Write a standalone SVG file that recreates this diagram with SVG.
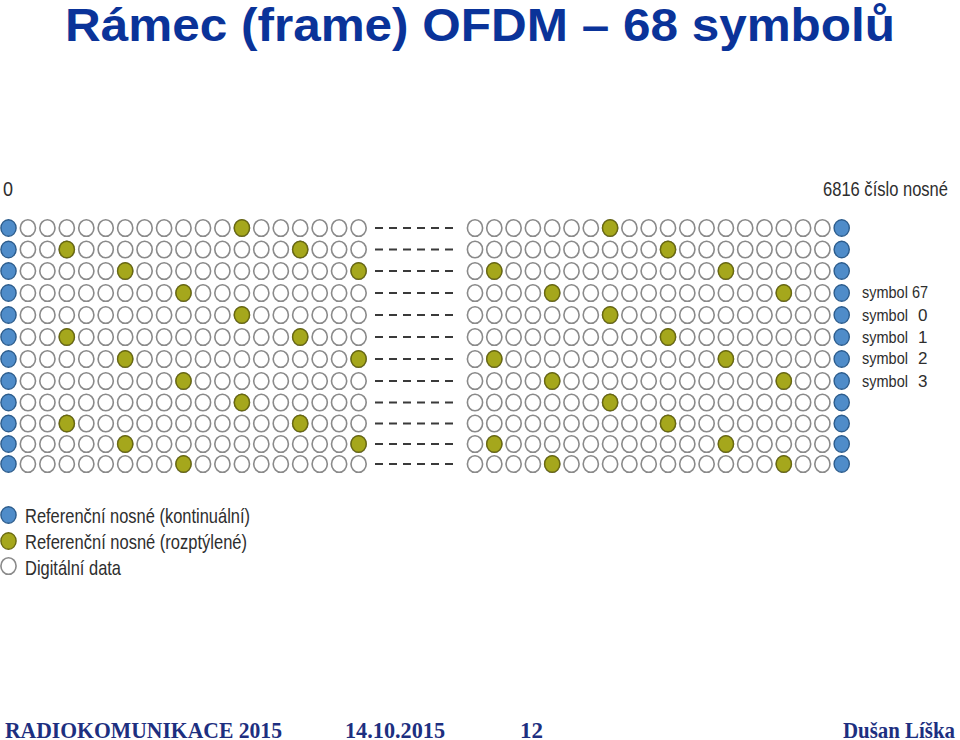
<svg xmlns="http://www.w3.org/2000/svg" xmlns:xlink="http://www.w3.org/1999/xlink" width="960" height="740" viewBox="0 0 960 740">
<style>
.w{fill:#ffffff;stroke:#8a8a8a;stroke-width:1.6}
.b{fill:#4f8cc9;stroke:#2c5c8c;stroke-width:1.4}
.y{fill:#a5a71c;stroke:#69690f;stroke-width:1.4}
.d{stroke:#3a3a3a;stroke-width:2.2;stroke-dasharray:8 6;fill:none}
.t{font-family:"Liberation Sans",Arial,sans-serif;fill:#2e2e2e}
.title{font-family:"Liberation Sans",Arial,sans-serif;font-weight:bold;font-size:46px;fill:#0a3399}
.foot{font-family:"Liberation Serif","Times New Roman",serif;font-weight:bold;font-size:23px;fill:#1d2f80}
</style>
<defs>
<ellipse id="c" cx="0" cy="0" rx="7.6" ry="8.3"/>
<g id="L">
<use href="#c" class="b" x="8.5"/>
<use href="#c" class="w" x="27.9"/><use href="#c" class="w" x="47.4"/><use href="#c" class="w" x="66.8"/><use href="#c" class="w" x="86.3"/><use href="#c" class="w" x="105.7"/><use href="#c" class="w" x="125.2"/><use href="#c" class="w" x="144.6"/><use href="#c" class="w" x="164.1"/><use href="#c" class="w" x="183.5"/><use href="#c" class="w" x="203"/><use href="#c" class="w" x="222.4"/><use href="#c" class="w" x="241.9"/><use href="#c" class="w" x="261.3"/><use href="#c" class="w" x="280.8"/><use href="#c" class="w" x="300.2"/><use href="#c" class="w" x="319.7"/><use href="#c" class="w" x="339.1"/><use href="#c" class="w" x="358.6"/>
<line class="d" x1="375" y1="0" x2="455" y2="0"/>
<use href="#c" class="w" x="475"/><use href="#c" class="w" x="494.3"/><use href="#c" class="w" x="513.6"/><use href="#c" class="w" x="532.9"/><use href="#c" class="w" x="552.2"/><use href="#c" class="w" x="571.5"/><use href="#c" class="w" x="590.8"/><use href="#c" class="w" x="610.1"/><use href="#c" class="w" x="629.4"/><use href="#c" class="w" x="648.7"/><use href="#c" class="w" x="668"/><use href="#c" class="w" x="687.3"/><use href="#c" class="w" x="706.6"/><use href="#c" class="w" x="725.9"/><use href="#c" class="w" x="745.2"/><use href="#c" class="w" x="764.5"/><use href="#c" class="w" x="783.8"/><use href="#c" class="w" x="803.1"/><use href="#c" class="w" x="822.4"/>
<use href="#c" class="b" x="841.7"/>
</g>
<g id="p0"><use href="#L"/><use href="#c" class="y" x="241.9"/><use href="#c" class="y" x="610.1"/></g>
<g id="p1"><use href="#L"/><use href="#c" class="y" x="66.8"/><use href="#c" class="y" x="300.2"/><use href="#c" class="y" x="668"/></g>
<g id="p2"><use href="#L"/><use href="#c" class="y" x="125.2"/><use href="#c" class="y" x="358.6"/><use href="#c" class="y" x="494.3"/><use href="#c" class="y" x="725.9"/></g>
<g id="p3"><use href="#L"/><use href="#c" class="y" x="183.5"/><use href="#c" class="y" x="552.2"/><use href="#c" class="y" x="783.8"/></g>
</defs>
<rect width="960" height="740" fill="#ffffff"/>
<g id="title"><text class="title" x="65" y="41" textLength="830" lengthAdjust="spacingAndGlyphs">Rámec (frame) OFDM – 68 symbolů</text></g>
<g id="axis-labels">
<text class="t" x="3" y="196" font-size="21" textLength="10" lengthAdjust="spacingAndGlyphs">0</text>
<text class="t" x="823" y="196" font-size="20" textLength="125" lengthAdjust="spacingAndGlyphs">6816 číslo nosné</text>
</g>
<g id="grid">
<use href="#p0" y="228"/>
<use href="#p1" y="249.5"/>
<use href="#p2" y="271"/>
<use href="#p3" y="293"/>
<use href="#p0" y="315"/>
<use href="#p1" y="337"/>
<use href="#p2" y="359"/>
<use href="#p3" y="381"/>
<use href="#p0" y="402.5"/>
<use href="#p1" y="423.5"/>
<use href="#p2" y="444"/>
<use href="#p3" y="464"/>
</g>
<g id="symbol-labels" font-size="17">
<text class="t" x="862" y="298" textLength="66" lengthAdjust="spacingAndGlyphs">symbol 67</text>
<text class="t" x="862" y="321"><tspan textLength="46" lengthAdjust="spacingAndGlyphs">symbol</tspan><tspan x="918">0</tspan></text>
<text class="t" x="862" y="343"><tspan textLength="46" lengthAdjust="spacingAndGlyphs">symbol</tspan><tspan x="918">1</tspan></text>
<text class="t" x="862" y="364"><tspan textLength="46" lengthAdjust="spacingAndGlyphs">symbol</tspan><tspan x="918">2</tspan></text>
<text class="t" x="862" y="387"><tspan textLength="46" lengthAdjust="spacingAndGlyphs">symbol</tspan><tspan x="918">3</tspan></text>
</g>
<g id="legend">
<use href="#c" class="b" x="8.5" y="515"/>
<use href="#c" class="y" x="8.5" y="541"/>
<use href="#c" class="w" x="8.5" y="566"/>
<text class="t" x="25" y="523" font-size="21" textLength="225" lengthAdjust="spacingAndGlyphs">Referenční nosné (kontinuální)</text>
<text class="t" x="25" y="549" font-size="21" textLength="222" lengthAdjust="spacingAndGlyphs">Referenční nosné (rozptýlené)</text>
<text class="t" x="25" y="575" font-size="21" textLength="96" lengthAdjust="spacingAndGlyphs">Digitální data</text>
</g>
<g id="footer">
<text class="foot" x="5" y="738" textLength="277" lengthAdjust="spacingAndGlyphs">RADIOKOMUNIKACE 2015</text>
<text class="foot" x="345" y="738" textLength="100" lengthAdjust="spacingAndGlyphs">14.10.2015</text>
<text class="foot" x="520" y="738" textLength="23" lengthAdjust="spacingAndGlyphs">12</text>
<text class="foot" x="843" y="738" textLength="112" lengthAdjust="spacingAndGlyphs">Dušan Líška</text>
</g>
</svg>
